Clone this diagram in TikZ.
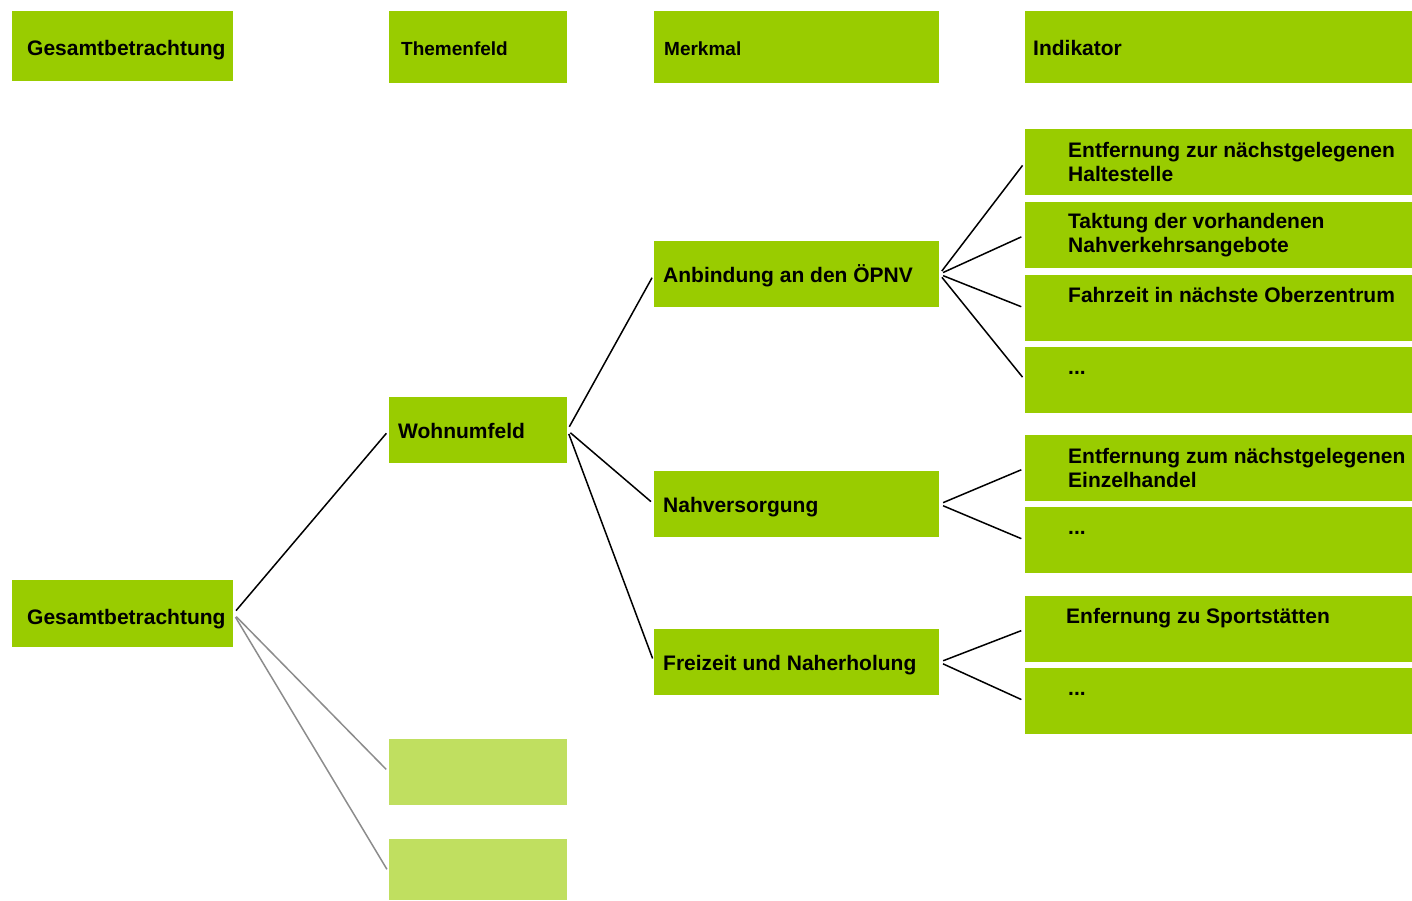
\documentclass[tikz,border=0pt]{standalone}
\usepackage{fontspec}
\setmainfont{Liberation Sans}
\usepackage{tikz}
\usetikzlibrary{positioning}
\definecolor{feldgruen}{RGB}{153,204,0}
\definecolor{leergruen}{RGB}{192,223,96}
\newcommand{\indikator}[3]{%
  \node[feld, minimum width=387pt, minimum height=66pt] (#1) at (1025,#2) {};
  \node[feldtext] (#1text) at ([xshift=43pt, yshift=-19pt]#1.north west) {#3};}
\newcommand{\indikatorzwei}[3]{%
  \node[feld, minimum width=387pt, minimum height=66pt] (#1) at (1025,#2) {};
  \node[feldtext2] (#1text) at ([xshift=43pt]#1.west) {#3};}
\newcommand{\merkmal}[3]{%
  \node[feld, minimum width=285pt, minimum height=66pt] (#1) at (654,#2) {};
  \node[feldtext] (#1text) at ([xshift=9pt]#1.west) {#3};}

\begin{document}
\begin{tikzpicture}[x=1pt, y=-1pt,
  font=\fontsize{21}{24}\selectfont\bfseries,
  feld/.style={fill=feldgruen, draw=none, anchor=north west, inner sep=0pt},
  leer/.style={feld, fill=leergruen},
  feldtext/.style={anchor=west, inner sep=0pt, text height=18pt, text depth=2pt},
  feldtext2/.style={anchor=west, inner sep=0pt, align=left},
  ast/.style={line width=1.5pt, shorten <=4pt, shorten >=4pt},
  astgrau/.style={ast, draw=black!45}]
  \useasboundingbox (0,0) rectangle (1412,900);
  % Kopfzeile
  \node[feld, minimum width=221pt, minimum height=70pt] (kopfG) at (12,11) {};
  \node[feldtext] (kopfGtext) at ([xshift=15pt, yshift=-1pt]kopfG.west) {Gesamtbetrachtung};
  \node[feld, minimum width=178pt, minimum height=72pt] (kopfT) at (389,11) {};
  \node[feldtext, font=\fontsize{19}{23}\selectfont\bfseries] (kopfTtext) at ([xshift=12pt]kopfT.west) {Themenfeld};
  \node[feld, minimum width=285pt, minimum height=72pt] (kopfM) at (654,11) {};
  \node[feldtext, font=\fontsize{19}{23}\selectfont\bfseries] (kopfMtext) at ([xshift=10pt]kopfM.west) {Merkmal};
  \node[feld, minimum width=387pt, minimum height=72pt] (kopfI) at (1025,11) {};
  \node[feldtext] (kopfItext) at ([xshift=8pt]kopfI.west) {Indikator};
  % Gesamtbetrachtung und Themenfelder
  \node[feld, minimum width=221pt, minimum height=67pt] (gesamt) at (12,580) {};
  \node[feldtext] (gesamttext) at ([xshift=15pt, yshift=-3pt]gesamt.west) {Gesamtbetrachtung};
  \node[feld, minimum width=178pt, minimum height=66pt] (wohnen) at (389,397) {};
  \node[feldtext] (wohnentext) at ([xshift=9pt]wohnen.west) {Wohnumfeld};
  \node[leer, minimum width=178pt, minimum height=66pt] (leer1) at (389,739) {};
  \node[leer, minimum width=178pt, minimum height=61pt] (leer2) at (389,839) {};
  % Merkmale
  \merkmal{anbindung}{241}{Anbindung an den ÖPNV}
  \merkmal{versorgung}{471}{Nahversorgung}
  \merkmal{freizeit}{629}{Freizeit und Naherholung}
  % Indikatoren
  \indikatorzwei{ind1}{129}{Entfernung zur nächstgelegenen\\Haltestelle}
  \indikatorzwei{ind2}{202}{Taktung der vorhandenen\\Nahverkehrsangebote}
  \indikator{ind3}{275}{Fahrzeit in nächste Oberzentrum}
  \indikator{ind4}{347}{...}
  \indikatorzwei{ind5}{435}{Entfernung zum nächstgelegenen\\Einzelhandel}
  \indikator{ind6}{507}{...}
  \indikator{ind7}{596}{\hspace{-2pt}Enfernung zu Sportstätten}
  \indikator{ind8}{668}{...}
  % Verbindungen
  \draw[ast] (gesamt.east) -- (wohnen.west);
  \draw[astgrau] (gesamt.east) -- (leer1.west);
  \draw[astgrau] (gesamt.east) -- ([yshift=-3pt]leer2.west);
  \foreach \z in {anbindung,versorgung,freizeit}
    \draw[ast] (wohnen.east) -- (\z.west);
  \foreach \z in {ind1,ind2,ind3,ind4}
    \draw[ast] (anbindung.east) -- (\z.west);
  \foreach \z in {ind5,ind6}
    \draw[ast] (versorgung.east) -- (\z.west);
  \foreach \z in {ind7,ind8}
    \draw[ast] (freizeit.east) -- (\z.west);
\end{tikzpicture}
\end{document}
